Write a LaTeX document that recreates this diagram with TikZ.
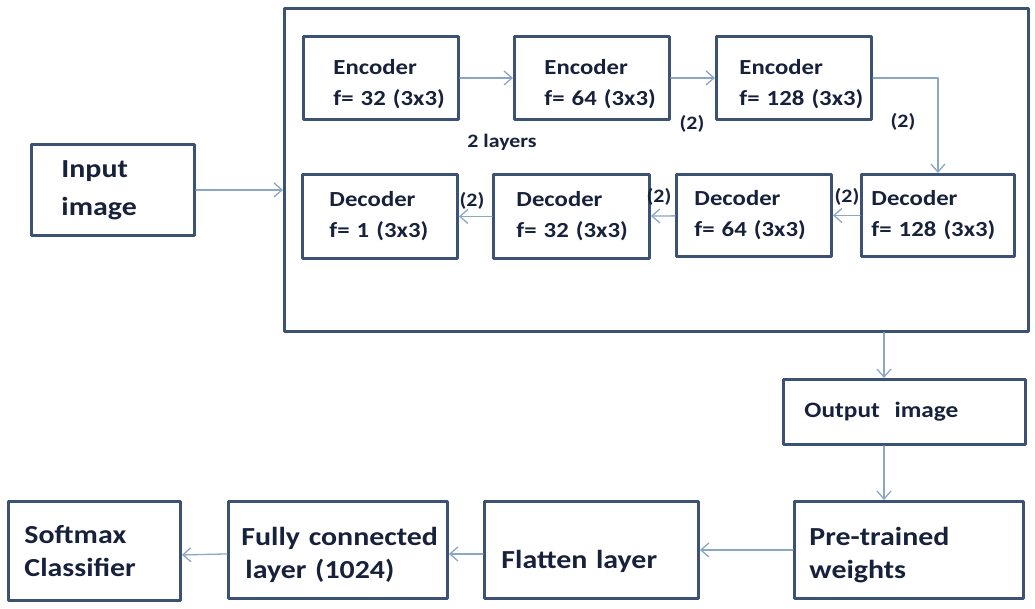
\documentclass[tikz,border=0pt]{standalone}
\usepackage{fontspec}
\setmainfont{Carlito}[FakeStretch=1.15]
\usepackage{tikz}
\usetikzlibrary{arrows.meta}
\definecolor{boxc}{rgb}{0.23,0.32,0.46}
\definecolor{conc}{rgb}{0.55,0.65,0.78}
\definecolor{txtc}{rgb}{0.09,0.13,0.23}
\hyphenpenalty=10000

\tikzset{
  box/.style={draw=boxc, line width=2.9pt, anchor=north west, align=left,
    text=txtc, inner ysep=0pt, font=\bfseries\fontsize{21.5}{31}\selectfont},
  bigbox/.style={box, font=\bfseries\fontsize{26}{33}\selectfont},
  conn/.style={draw=conc, line width=1.3pt, -{Straight Barb[length=8pt,width=14pt]}},
  tag/.style={text=txtc, font=\bfseries\fontsize{19}{20}\selectfont, inner sep=0pt}
}

\begin{document}
\begin{tikzpicture}[line cap=round,line join=round,x=1pt,y=-1pt]

    \useasboundingbox (0,0) rectangle (1035,609);

    % autoencoder frame
    \node[draw=boxc, line width=2.6pt, anchor=north west, inner sep=0pt,
          minimum width=744, minimum height=323] (outer) at (283,7) {};

    \node[bigbox, font=\bfseries\fontsize{26}{38}\selectfont, minimum width=163, minimum height=91, inner xsep=30, text width=103] (inp) at (30,143) {Input\\image};

    % encoders
    \node[box, minimum width=155, minimum height=83, inner xsep=30, text width=95] (enc1) at (302,35) {\rule{0pt}{27pt}Encoder\\f=~32~(3x3)};
    \node[box, minimum width=155, minimum height=83, inner xsep=30, text width=95] (enc2) at (513,35) {\rule{0pt}{27pt}Encoder\\f=~64~(3x3)};
    \node[box, minimum width=155, minimum height=83, inner xsep=23, text width=109] (enc3) at (715,35) {\rule{0pt}{27pt}Encoder\\f=~128~(3x3)};

    % decoders
    \node[box, minimum width=155, minimum height=84, inner xsep=27, text width=101] (dec1) at (301,173) {Decoder\\f=~1~(3x3)};
    \node[box, minimum width=156, minimum height=84, inner xsep=23, text width=110] (dec2) at (492,173) {Decoder\\f=~32~(3x3)};
    \node[box, minimum width=155, minimum height=82, inner xsep=18, text width=119] (dec3) at (675,173) {Decoder\\f=~64~(3x3)};
    \node[box, minimum width=153, minimum height=82, inner xsep=10, text width=133] (dec4) at (860,173) {Decoder\\f=~128~(3x3)};

    \node[tag] (layers) at (502,142) {2 layers};
    \node[tag] (lbl1) at (692,124) {(2)};
    \node[tag] (lbl2) at (903,122) {(2)};
    \node[tag] (lbl3) at (847,197) {(2)};
    \node[tag] (lbl4) at (659,197) {(2)};
    \node[tag] (lbl5) at (472,201) {(2)};

    % classifier part
    \node[box, font=\bfseries\fontsize{22}{30}\selectfont, minimum width=242, minimum height=65, inner xsep=21, text width=200] (out) at (782,378) {Output~~image};
    \node[bigbox, minimum width=229, minimum height=97, inner xsep=15, text width=199] (pre) at (793,500) {\rule{0pt}{28pt}Pre-trained\\weights};
    \node[bigbox, minimum width=214, minimum height=97, inner xsep=17, text width=180] (fla) at (483,500) {\rule{0pt}{42pt}Flatten~layer};
    \node[bigbox, minimum width=219, minimum height=97, inner xsep=13, text width=193] (fc) at (227,500) {\rule{0pt}{28pt}Fully~connected\\\hspace*{4pt}layer~(1024)};
    \node[bigbox, minimum width=172, minimum height=99, inner xsep=16, text width=140] (soft) at (7,500) {Softmax\\Classifier};

    \coordinate (drop) at (884,0);

    \draw[conn] (inp.east) -- (inp.east -| outer.west);
    \draw[conn] (enc1) -- (enc2);
    \draw[conn] (enc2) -- (enc3);
    \draw[conn] (enc3.east) -| (dec4.north);
    \draw[conn] (dec4) -- (dec3);
    \draw[conn] (dec3) -- (dec2);
    \draw[conn] (dec2) -- (dec1);
    \draw[conn] (outer.south -| drop) -- (out.north -| drop);
    \draw[conn] (out.south -| drop) -- (pre.north -| drop);
    \draw[conn] (pre) -- (fla);
    \draw[conn] ([yshift=-4pt]fla.west) -- ([yshift=-4pt]fc.east);
    \draw[conn] ([yshift=-4pt]fc.west) -- ([yshift=-4pt]soft.east);
\end{tikzpicture}
\end{document}
